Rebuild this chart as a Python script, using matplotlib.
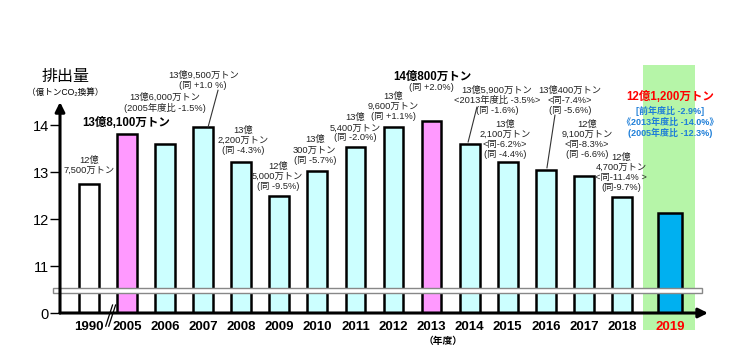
import matplotlib
matplotlib.use("Agg")
import matplotlib.pyplot as plt
from matplotlib.patches import Rectangle
import numpy as np

plt.rcParams['font.family'] = ['Liberation Sans', 'Noto Sans CJK JP']

# ---- data (億トン CO2) ----
years = ['1990', '2005', '2006', '2007', '2008', '2009', '2010', '2011',
         '2012', '2013', '2014', '2015', '2016', '2017', '2018', '2019']
emissions = [12.75, 13.81, 13.60, 13.95, 13.22, 12.50, 13.03, 13.54,
             13.96, 14.08, 13.59, 13.21, 13.04, 12.91, 12.47, 12.12]
bar_colors = ['white', '#FF99FF', '#CCFFFF', '#CCFFFF', '#CCFFFF', '#CCFFFF',
              '#CCFFFF', '#CCFFFF', '#CCFFFF', '#FF99FF', '#CCFFFF', '#CCFFFF',
              '#CCFFFF', '#CCFFFF', '#CCFFFF', '#00B0F0']

# small notes above bars (text, x centre, y centre)
notes = [
    ("12億\n7,500万トン", 0.0, 13.14),
    ("13億6,000万トン\n(2005年度比 -1.5%)", 2.0, 14.48),
    ("13億9,500万トン\n(同 +1.0 %)", 3.0, 14.96),
    ("13億\n2,200万トン\n(同 -4.3%)", 4.04, 13.68),
    ("12億\n5,000万トン\n(同 -9.5%)", 4.96, 12.91),
    ("13億\n300万トン\n(同 -5.7%)", 5.93, 13.47),
    ("13億\n5,400万トン\n(同 -2.0%)", 7.0, 13.94),
    ("13億\n9,600万トン\n(同 +1.1%)", 8.0, 14.40),
    ("(同 +2.0%)", 9.0, 14.79),
    ("13億5,900万トン\n<2013年度比 -3.5%>\n(同 -1.6%)", 10.72, 14.53),
    ("13億\n2,100万トン\n<同-6.2%>\n(同 -4.4%)", 10.93, 13.70),
    ("13億400万トン\n<同-7.4%>\n(同 -5.6%)", 12.63, 14.53),
    ("12億\n9,100万トン\n<同-8.3%>\n(同 -6.6%)", 13.08, 13.70),
    ("12億\n4,700万トン\n<同-11.4% >\n(同-9.7%)", 13.97, 12.99),
]
# leader lines (from bar top to note)
leaders = [((3.13, 13.96), (3.39, 14.74)),
           ((9.96, 13.64), (10.19, 14.38)),
           ((12.03, 13.09), (12.24, 14.21))]

FLOOR = 10.0  # broken axis: the "0" line is drawn at 10

fig = plt.figure(figsize=(7.5, 3.53), dpi=100)
ax = fig.add_axes([0.08, 0.1133, 0.864, 0.7734])

x = np.arange(len(years), dtype=float)
x[-1] += 0.26
widths = [0.52] * (len(years) - 1) + [0.63]

# green highlight behind 2019
ax.add_patch(Rectangle((14.55, 9.64), 1.37, 5.64, facecolor='#B6F5A8',
                       edgecolor='none', zorder=0, clip_on=False))

ax.bar(x, np.array(emissions) - FLOOR, bottom=FLOOR, width=widths,
       color=bar_colors, edgecolor='black', linewidth=1.8, zorder=2)

# axis break band
ax.add_patch(Rectangle((-0.95, 10.43), 17.05, 0.10, facecolor='white',
                       edgecolor='#888888', linewidth=1, zorder=3, clip_on=False))
# "//" mark between 1990 and 2005
for dx in (0.0, 0.08):
    ax.plot([0.44 + dx, 0.62 + dx], [9.72, 10.17], color='black', lw=0.9,
            clip_on=False, zorder=4)

ax.set_xlim(-0.76, 16.26)
ax.set_ylim(FLOOR, 15.81)
for s in ax.spines.values():
    s.set_visible(False)

# axes with arrows
ax.annotate('', xy=(-0.76, 14.49), xytext=(-0.76, FLOOR),
            arrowprops=dict(arrowstyle='-|>', color='black', lw=2.2,
                            mutation_scale=14, shrinkA=0, shrinkB=0),
            zorder=5, annotation_clip=False)
ax.annotate('', xy=(16.26, FLOOR), xytext=(-0.76, FLOOR),
            arrowprops=dict(arrowstyle='-|>', color='black', lw=2.2,
                            mutation_scale=14, shrinkA=0, shrinkB=0),
            zorder=5, annotation_clip=False)

ax.set_yticks([10, 11, 12, 13, 14], ['0', '11', '12', '13', '14'], fontsize=10.5)
ax.tick_params(axis='y', length=7, width=1, pad=1)
ax.set_xticks(x, years, fontsize=9.5, fontweight='bold')
ax.tick_params(axis='x', length=0, pad=6)
ax.get_xticklabels()[-1].set_color('#FF0000')

ax.text(9.3, 9.4, '（年度）', fontsize=7, fontweight='bold', ha='center',
        va='center', clip_on=False)

fig.text(0.087, 0.782, '排出量', fontsize=11.5, ha='center', va='center')
fig.text(0.087, 0.737, '（億トンCO₂換算）', fontsize=6.2, ha='center', va='center')

for txt, tx, ty in notes:
    ax.text(tx, ty, txt, fontsize=6.7, ha='center', va='center',
            linespacing=1.15, color='#222222', zorder=6)
for (x0, y0), (x1, y1) in leaders:
    ax.plot([x0, x1], [y0, y1], color='#333333', lw=0.8, zorder=6)

ax.text(0.97, 14.04, '13億8,100万トン', fontsize=8.3, fontweight='bold',
        ha='center', va='center', zorder=6)
ax.text(9.02, 15.02, '14億800万トン', fontsize=8.3, fontweight='bold',
        ha='center', va='center', zorder=6)
ax.text(15.26, 14.60, '12億1,200万トン', fontsize=8.3, fontweight='bold',
        color='#FF0000', ha='center', va='center', zorder=6)
ax.text(15.26, 14.06, '[前年度比 -2.9%]\n《2013年度比 -14.0%》\n(2005年度比 -12.3%)',
        fontsize=6.5, fontweight='bold', color='#1F7FD8', ha='center',
        va='center', linespacing=1.15, zorder=6)

fig.savefig('out.png', dpi=100)
